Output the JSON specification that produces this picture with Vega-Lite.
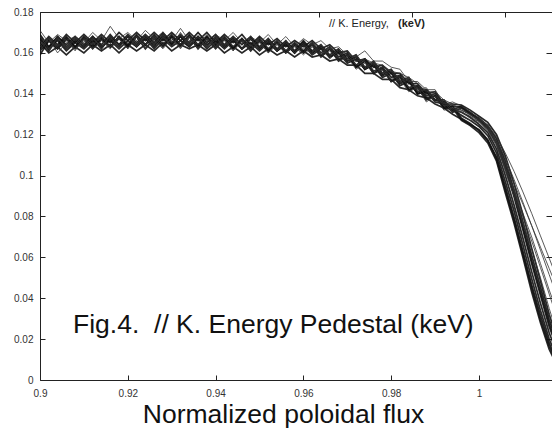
{
  "$schema": "https://vega.github.io/schema/vega-lite/v6.json",
  "width": 512,
  "height": 368,
  "autosize": {"type": "none"},
  "padding": {"left": 40, "top": 12, "right": 0, "bottom": 57},
  "background": "white",
  "config": {
    "view": {"stroke": null},
    "axis": {"grid": false, "domainColor": "#222", "tickColor": "#222", "labelFont": "Liberation Sans", "titleFont": "Liberation Sans", "labelColor": "#333", "labelFontSize": 10}
  },
  "datasets": {
    "profiles": [
      {"x":0.900,"a":0.167,"b":0.162,"c":0.166,"d":0.161,"e":0.168,"f":0.163,"g":0.165,"h":0.159,"i":0.169,"j":0.163,"k":0.171,"l":0.164,"m":0.168,"n":0.161,"o":0.166},
      {"x":0.902,"a":0.162,"b":0.167,"c":0.163,"d":0.166,"e":0.161,"f":0.168,"g":0.160,"h":0.166,"i":0.163,"j":0.167,"k":0.165,"l":0.168,"m":0.162,"n":0.167,"o":0.161},
      {"x":0.904,"a":0.168,"b":0.163,"c":0.166,"d":0.162,"e":0.167,"f":0.164,"g":0.163,"h":0.162,"i":0.168,"j":0.160,"k":0.169,"l":0.163,"m":0.167,"n":0.162,"o":0.168},
      {"x":0.906,"a":0.163,"b":0.168,"c":0.161,"d":0.167,"e":0.162,"f":0.169,"g":0.159,"h":0.167,"i":0.164,"j":0.165,"k":0.166,"l":0.167,"m":0.163,"n":0.166,"o":0.162},
      {"x":0.908,"a":0.167,"b":0.163,"c":0.165,"d":0.162,"e":0.166,"f":0.165,"g":0.163,"h":0.163,"i":0.168,"j":0.162,"k":0.168,"l":0.162,"m":0.168,"n":0.161,"o":0.167},
      {"x":0.910,"a":0.163,"b":0.168,"c":0.162,"d":0.167,"e":0.163,"f":0.169,"g":0.160,"h":0.167,"i":0.164,"j":0.166,"k":0.165,"l":0.167,"m":0.163,"n":0.167,"o":0.162},
      {"x":0.912,"a":0.167,"b":0.164,"c":0.166,"d":0.163,"e":0.168,"f":0.165,"g":0.164,"h":0.162,"i":0.168,"j":0.162,"k":0.170,"l":0.164,"m":0.168,"n":0.162,"o":0.167},
      {"x":0.914,"a":0.162,"b":0.168,"c":0.163,"d":0.167,"e":0.163,"f":0.169,"g":0.161,"h":0.167,"i":0.164,"j":0.166,"k":0.166,"l":0.168,"m":0.162,"n":0.166,"o":0.163},
      {"x":0.916,"a":0.168,"b":0.163,"c":0.166,"d":0.163,"e":0.167,"f":0.165,"g":0.164,"h":0.163,"i":0.169,"j":0.163,"k":0.173,"l":0.163,"m":0.169,"n":0.162,"o":0.168},
      {"x":0.918,"a":0.164,"b":0.168,"c":0.162,"d":0.168,"e":0.163,"f":0.170,"g":0.160,"h":0.167,"i":0.164,"j":0.167,"k":0.167,"l":0.168,"m":0.164,"n":0.167,"o":0.162},
      {"x":0.920,"a":0.168,"b":0.164,"c":0.166,"d":0.163,"e":0.168,"f":0.166,"g":0.164,"h":0.163,"i":0.169,"j":0.162,"k":0.170,"l":0.165,"m":0.168,"n":0.162,"o":0.169},
      {"x":0.922,"a":0.163,"b":0.169,"c":0.163,"d":0.168,"e":0.164,"f":0.170,"g":0.161,"h":0.168,"i":0.165,"j":0.168,"k":0.166,"l":0.169,"m":0.163,"n":0.168,"o":0.163},
      {"x":0.924,"a":0.168,"b":0.164,"c":0.167,"d":0.164,"e":0.168,"f":0.166,"g":0.164,"h":0.162,"i":0.169,"j":0.163,"k":0.171,"l":0.164,"m":0.169,"n":0.162,"o":0.168},
      {"x":0.926,"a":0.164,"b":0.169,"c":0.162,"d":0.168,"e":0.163,"f":0.170,"g":0.161,"h":0.167,"i":0.165,"j":0.166,"k":0.167,"l":0.168,"m":0.164,"n":0.167,"o":0.162},
      {"x":0.928,"a":0.168,"b":0.164,"c":0.167,"d":0.163,"e":0.169,"f":0.166,"g":0.165,"h":0.163,"i":0.170,"j":0.162,"k":0.170,"l":0.164,"m":0.169,"n":0.163,"o":0.168},
      {"x":0.930,"a":0.164,"b":0.169,"c":0.163,"d":0.168,"e":0.164,"f":0.170,"g":0.161,"h":0.168,"i":0.165,"j":0.167,"k":0.166,"l":0.169,"m":0.163,"n":0.167,"o":0.163},
      {"x":0.932,"a":0.168,"b":0.164,"c":0.166,"d":0.164,"e":0.168,"f":0.166,"g":0.164,"h":0.163,"i":0.169,"j":0.163,"k":0.172,"l":0.164,"m":0.170,"n":0.162,"o":0.169},
      {"x":0.934,"a":0.163,"b":0.169,"c":0.163,"d":0.168,"e":0.164,"f":0.170,"g":0.162,"h":0.168,"i":0.165,"j":0.168,"k":0.166,"l":0.168,"m":0.164,"n":0.168,"o":0.163},
      {"x":0.936,"a":0.168,"b":0.164,"c":0.167,"d":0.163,"e":0.168,"f":0.166,"g":0.164,"h":0.162,"i":0.170,"j":0.162,"k":0.170,"l":0.164,"m":0.168,"n":0.162,"o":0.168},
      {"x":0.938,"a":0.164,"b":0.168,"c":0.162,"d":0.168,"e":0.163,"f":0.170,"g":0.161,"h":0.167,"i":0.165,"j":0.167,"k":0.166,"l":0.169,"m":0.163,"n":0.167,"o":0.162},
      {"x":0.940,"a":0.167,"b":0.164,"c":0.166,"d":0.163,"e":0.168,"f":0.165,"g":0.164,"h":0.162,"i":0.169,"j":0.163,"k":0.169,"l":0.163,"m":0.168,"n":0.162,"o":0.168},
      {"x":0.942,"a":0.163,"b":0.168,"c":0.162,"d":0.167,"e":0.163,"f":0.169,"g":0.160,"h":0.167,"i":0.164,"j":0.166,"k":0.166,"l":0.168,"m":0.163,"n":0.167,"o":0.162},
      {"x":0.944,"a":0.167,"b":0.163,"c":0.166,"d":0.162,"e":0.167,"f":0.165,"g":0.163,"h":0.162,"i":0.168,"j":0.161,"k":0.170,"l":0.163,"m":0.168,"n":0.161,"o":0.167},
      {"x":0.946,"a":0.162,"b":0.167,"c":0.162,"d":0.167,"e":0.162,"f":0.169,"g":0.160,"h":0.166,"i":0.164,"j":0.166,"k":0.165,"l":0.167,"m":0.162,"n":0.166,"o":0.162},
      {"x":0.948,"a":0.167,"b":0.163,"c":0.165,"d":0.162,"e":0.167,"f":0.164,"g":0.163,"h":0.161,"i":0.168,"j":0.162,"k":0.168,"l":0.163,"m":0.167,"n":0.161,"o":0.167},
      {"x":0.950,"a":0.162,"b":0.167,"c":0.161,"d":0.166,"e":0.162,"f":0.168,"g":0.159,"h":0.166,"i":0.163,"j":0.165,"k":0.165,"l":0.167,"m":0.162,"n":0.166,"o":0.161},
      {"x":0.952,"a":0.166,"b":0.162,"c":0.165,"d":0.161,"e":0.166,"f":0.164,"g":0.162,"h":0.161,"i":0.167,"j":0.160,"k":0.169,"l":0.162,"m":0.167,"n":0.160,"o":0.166},
      {"x":0.954,"a":0.161,"b":0.166,"c":0.161,"d":0.165,"e":0.161,"f":0.167,"g":0.159,"h":0.165,"i":0.162,"j":0.164,"k":0.164,"l":0.166,"m":0.161,"n":0.165,"o":0.161},
      {"x":0.956,"a":0.165,"b":0.161,"c":0.164,"d":0.160,"e":0.165,"f":0.163,"g":0.161,"h":0.160,"i":0.166,"j":0.160,"k":0.168,"l":0.161,"m":0.166,"n":0.160,"o":0.165},
      {"x":0.958,"a":0.160,"b":0.165,"c":0.160,"d":0.164,"e":0.160,"f":0.166,"g":0.158,"h":0.164,"i":0.161,"j":0.163,"k":0.163,"l":0.165,"m":0.160,"n":0.164,"o":0.160},
      {"x":0.960,"a":0.165,"b":0.161,"c":0.164,"d":0.160,"e":0.165,"f":0.163,"g":0.161,"h":0.160,"i":0.166,"j":0.159,"k":0.167,"l":0.162,"m":0.165,"n":0.160,"o":0.164},
      {"x":0.962,"a":0.160,"b":0.165,"c":0.159,"d":0.164,"e":0.160,"f":0.166,"g":0.158,"h":0.164,"i":0.161,"j":0.163,"k":0.164,"l":0.165,"m":0.160,"n":0.164,"o":0.159},
      {"x":0.964,"a":0.163,"b":0.160,"c":0.162,"d":0.159,"e":0.163,"f":0.162,"g":0.159,"h":0.158,"i":0.164,"j":0.158,"k":0.166,"l":0.160,"m":0.164,"n":0.159,"o":0.163},
      {"x":0.966,"a":0.158,"b":0.163,"c":0.158,"d":0.162,"e":0.158,"f":0.164,"g":0.156,"h":0.162,"i":0.159,"j":0.161,"k":0.162,"l":0.163,"m":0.158,"n":0.162,"o":0.157},
      {"x":0.968,"a":0.161,"b":0.158,"c":0.160,"d":0.157,"e":0.161,"f":0.160,"g":0.157,"h":0.156,"i":0.162,"j":0.156,"k":0.163,"l":0.159,"m":0.162,"n":0.157,"o":0.161},
      {"x":0.970,"a":0.156,"b":0.160,"c":0.155,"d":0.159,"e":0.156,"f":0.161,"g":0.154,"h":0.159,"i":0.157,"j":0.158,"k":0.159,"l":0.161,"m":0.156,"n":0.159,"o":0.155},
      {"x":0.972,"a":0.158,"b":0.154,"c":0.157,"d":0.153,"e":0.158,"f":0.156,"g":0.154,"h":0.153,"i":0.159,"j":0.152,"k":0.158,"l":0.156,"m":0.159,"n":0.154,"o":0.158},
      {"x":0.974,"a":0.152,"b":0.157,"c":0.152,"d":0.156,"e":0.152,"f":0.157,"g":0.150,"h":0.156,"i":0.153,"j":0.155,"k":0.161,"l":0.157,"m":0.153,"n":0.156,"o":0.152},
      {"x":0.976,"a":0.155,"b":0.151,"c":0.154,"d":0.150,"e":0.155,"f":0.153,"g":0.150,"h":0.150,"i":0.156,"j":0.150,"k":0.156,"l":0.155,"m":0.156,"n":0.151,"o":0.155},
      {"x":0.978,"a":0.149,"b":0.153,"c":0.148,"d":0.152,"e":0.149,"f":0.154,"g":0.147,"h":0.153,"i":0.150,"j":0.152,"k":0.156,"l":0.154,"m":0.150,"n":0.153,"o":0.149},
      {"x":0.980,"a":0.151,"b":0.148,"c":0.150,"d":0.146,"e":0.151,"f":0.150,"g":0.147,"h":0.146,"i":0.152,"j":0.146,"k":0.153,"l":0.151,"m":0.152,"n":0.147,"o":0.151},
      {"x":0.982,"a":0.145,"b":0.149,"c":0.144,"d":0.148,"e":0.145,"f":0.150,"g":0.143,"h":0.149,"i":0.146,"j":0.147,"k":0.152,"l":0.150,"m":0.146,"n":0.149,"o":0.145},
      {"x":0.984,"a":0.147,"b":0.143,"c":0.146,"d":0.142,"e":0.147,"f":0.145,"g":0.142,"h":0.142,"i":0.148,"j":0.141,"k":0.146,"l":0.148,"m":0.148,"n":0.143,"o":0.147},
      {"x":0.986,"a":0.140,"b":0.144,"c":0.140,"d":0.143,"e":0.140,"f":0.145,"g":0.139,"h":0.144,"i":0.141,"j":0.143,"k":0.146,"l":0.145,"m":0.142,"n":0.144,"o":0.141},
      {"x":0.988,"a":0.141,"b":0.139,"c":0.141,"d":0.137,"e":0.142,"f":0.140,"g":0.138,"h":0.138,"i":0.142,"j":0.136,"k":0.142,"l":0.141,"m":0.143,"n":0.139,"o":0.142},
      {"x":0.990,"a":0.137,"b":0.140,"c":0.136,"d":0.139,"e":0.137,"f":0.141,"g":0.135,"h":0.139,"i":0.137,"j":0.139,"k":0.142,"l":0.141,"m":0.137,"n":0.140,"o":0.136},
      {"x":0.992,"a":0.136,"b":0.134,"c":0.135,"d":0.133,"e":0.137,"f":0.135,"g":0.133,"h":0.133,"i":0.136,"j":0.132,"k":0.135,"l":0.137,"m":0.137,"n":0.134,"o":0.136},
      {"x":0.994,"a":0.132,"b":0.134,"c":0.131,"d":0.133,"e":0.132,"f":0.135,"g":0.130,"h":0.134,"i":0.132,"j":0.133,"k":0.136,"l":0.135,"m":0.132,"n":0.135,"o":0.131},
      {"x":0.996,"a":0.134,"b":0.128,"c":0.133,"d":0.127,"e":0.131,"f":0.1345,"g":0.1275,"h":0.1335,"i":0.1295,"j":0.131,"k":0.134,"l":0.132,"m":0.132,"n":0.129,"o":0.1315},
      {"x":0.998,"a":0.1305,"b":0.1255,"c":0.130,"d":0.1245,"e":0.1285,"f":0.132,"g":0.125,"h":0.131,"i":0.127,"j":0.129,"k":0.131,"l":0.130,"m":0.1295,"n":0.127,"o":0.128},
      {"x":1.000,"a":0.128,"b":0.122,"c":0.127,"d":0.121,"e":0.125,"f":0.129,"g":0.1225,"h":0.1275,"i":0.124,"j":0.1265,"k":0.128,"l":0.127,"m":0.1275,"n":0.126,"o":0.1265},
      {"x":1.002,"a":0.1245,"b":0.117,"c":0.123,"d":0.116,"e":0.121,"f":0.126,"g":0.1175,"h":0.1235,"i":0.1195,"j":0.1225,"k":0.1245,"l":0.1235,"m":0.1245,"n":0.122,"o":0.123},
      {"x":1.004,"a":0.118,"b":0.109,"c":0.1155,"d":0.107,"e":0.113,"f":0.120,"g":0.108,"h":0.1165,"i":0.111,"j":0.116,"k":0.1155,"l":0.116,"m":0.119,"n":0.1145,"o":0.117},
      {"x":1.006,"a":0.107,"b":0.0945,"c":0.1035,"d":0.0915,"e":0.100,"f":0.1095,"g":0.093,"h":0.105,"i":0.097,"j":0.106,"k":0.102,"l":0.104,"m":0.111,"n":0.1035,"o":0.1085},
      {"x":1.008,"a":0.093,"b":0.0795,"c":0.0895,"d":0.0765,"e":0.0855,"f":0.096,"g":0.078,"h":0.091,"i":0.0825,"j":0.096,"k":0.090,"l":0.093,"m":0.102,"n":0.092,"o":0.098},
      {"x":1.010,"a":0.0775,"b":0.063,"c":0.0735,"d":0.060,"e":0.0695,"f":0.081,"g":0.0615,"h":0.075,"i":0.066,"j":0.086,"k":0.077,"l":0.0815,"m":0.092,"n":0.080,"o":0.087},
      {"x":1.012,"a":0.061,"b":0.0465,"c":0.057,"d":0.043,"e":0.053,"f":0.0645,"g":0.045,"h":0.0585,"i":0.0495,"j":0.0755,"k":0.064,"l":0.070,"m":0.0815,"n":0.068,"o":0.0755},
      {"x":1.014,"a":0.0455,"b":0.0315,"c":0.0415,"d":0.028,"e":0.0375,"f":0.0485,"g":0.0295,"h":0.043,"i":0.034,"j":0.065,"k":0.050,"l":0.057,"m":0.0705,"n":0.055,"o":0.0635},
      {"x":1.016,"a":0.0295,"b":0.018,"c":0.026,"d":0.015,"e":0.023,"f":0.032,"g":0.0165,"h":0.0275,"i":0.020,"j":0.0545,"k":0.035,"l":0.044,"m":0.0595,"n":0.042,"o":0.0515},
      {"x":1.018,"a":0.017,"b":0.008,"c":0.0145,"d":0.006,"e":0.012,"f":0.019,"g":0.007,"h":0.0155,"i":0.010,"j":0.044,"k":0.021,"l":0.032,"m":0.0485,"n":0.029,"o":0.0395}
    ]
  },
  "resolve": {"axis": {"x": "independent", "y": "independent"}},
  "layer": [
    {
      "data": {"name": "profiles"},
      "transform": [{"fold": ["a","b","c","d","e","f","g","h","i"], "as": ["k","y"]}],
      "mark": {"type": "line", "stroke": "#111", "strokeWidth": 1.7, "opacity": 0.9, "clip": true},
      "encoding": {
        "x": {"field": "x", "type": "quantitative", "scale": {"domain": [0.9, 1.01663], "nice": false, "zero": false},
          "axis": {"orient": "bottom", "values": [0.9,0.92,0.94,0.96,0.98,1.0], "format": "~g", "tickSize": -5, "labelPadding": 13, "labelFlush": false,
            "title": "Normalized poloidal flux", "titleFontSize": 26.5, "titleFontWeight": "normal", "titleColor": "#111", "titlePadding": 3, "titleX": 243}},
        "y": {"field": "y", "type": "quantitative", "scale": {"domain": [0, 0.18], "nice": false, "zero": false},
          "axis": {"orient": "left", "values": [0,0.02,0.04,0.06,0.08,0.1,0.12,0.14,0.16,0.18], "format": "~g", "tickSize": -5, "labelPadding": 12, "title": null}},
        "detail": {"field": "k", "type": "nominal"}
      }
    },
    {
      "data": {"name": "profiles"},
      "transform": [{"fold": ["j","k","l","m","n","o"], "as": ["k","y"]}],
      "mark": {"type": "line", "stroke": "#333", "strokeWidth": 0.9, "opacity": 0.9, "clip": true},
      "encoding": {
        "x": {"field": "x", "type": "quantitative", "axis": null},
        "y": {"field": "y", "type": "quantitative", "axis": null},
        "detail": {"field": "k", "type": "nominal"}
      }
    },
    {
      "data": {"values": [{}]},
      "mark": {"type": "text", "text": "// K. Energy,", "font": "Liberation Sans", "fontSize": 11, "align": "left", "baseline": "middle", "color": "#222"},
      "encoding": {
        "x": {"datum": 0.96583, "type": "quantitative",
          "axis": {"orient": "top", "values": [0.9, 0.92118, 0.94237, 0.96355, 0.98474, 1.00592], "labels": false, "tickSize": -5, "title": null}},
        "y": {"datum": 0.17413, "type": "quantitative",
          "axis": {"orient": "right", "values": [0.02,0.04,0.06,0.08,0.1,0.12,0.14,0.16], "labels": false, "tickSize": -6, "title": null}}
      }
    },
    {
      "data": {"values": [{}]},
      "mark": {"type": "text", "text": "(keV)", "font": "Liberation Sans", "fontSize": 11, "fontWeight": "bold", "align": "left", "baseline": "middle", "color": "#222"},
      "encoding": {
        "x": {"datum": 0.98155, "type": "quantitative", "axis": null},
        "y": {"datum": 0.17413, "type": "quantitative", "axis": null}
      }
    },
    {
      "data": {"values": [{}]},
      "mark": {"type": "text", "text": "Fig.4.\u00a0\u00a0// K. Energy Pedestal (keV)", "font": "Liberation Sans", "fontSize": 26.5, "align": "left", "baseline": "alphabetic", "color": "#111"},
      "encoding": {
        "x": {"datum": 0.90752, "type": "quantitative", "axis": null},
        "y": {"datum": 0.02299, "type": "quantitative", "axis": null}
      }
    }
  ]
}
